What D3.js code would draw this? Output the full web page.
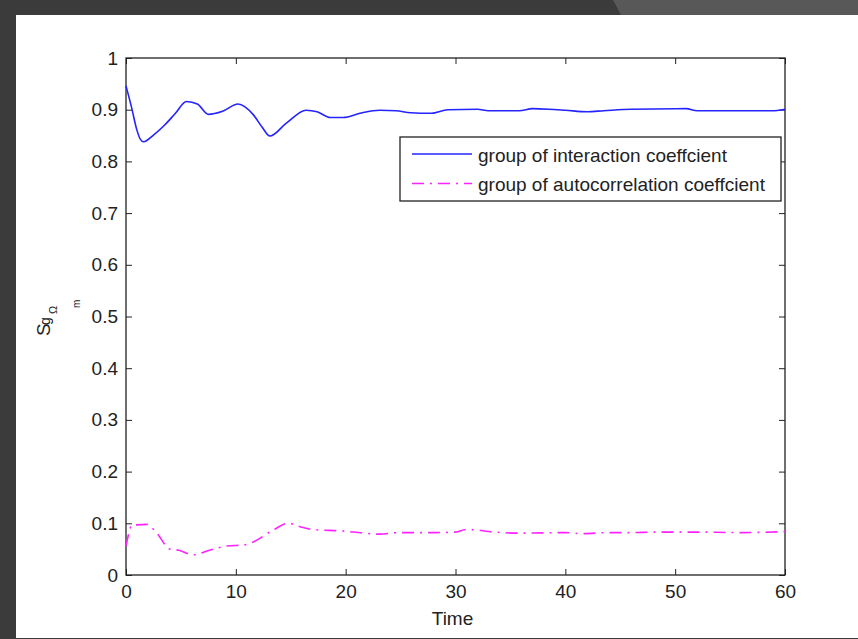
<!DOCTYPE html>
<html>
<head>
<meta charset="utf-8">
<script src="https://cdn.jsdelivr.net/npm/d3@7/dist/d3.min.js"></script>
<style>
  html, body { margin: 0; padding: 0; background: #3b3b3b; }
  svg { display: block; }
  text { font-family: "Liberation Sans", Arial, sans-serif; fill: #222; }
</style>
</head>
<body>
<svg id="chart" width="858" height="639"></svg>
<script>
// ---- Data ----
const interactionTime = [0, 0.5, 1.0, 1.3, 1.6, 2.5, 3.5, 4.5, 5.5, 6.5, 7.5, 8.8, 10.2, 11.6, 12.4, 13.1, 14.6, 16.4, 17.4, 18.6, 19.8, 21.3, 23.1, 24.6, 25.9, 27.8, 29.3, 32, 33, 35.8, 37, 38.5, 40, 42, 43.5, 46, 51, 52, 58.8, 60];
const interactionValues = [0.946, 0.905, 0.860, 0.843, 0.838, 0.851, 0.870, 0.893, 0.916, 0.911, 0.891, 0.897, 0.911, 0.890, 0.866, 0.849, 0.874, 0.899, 0.896, 0.885, 0.885, 0.893, 0.899, 0.898, 0.894, 0.893, 0.900, 0.901, 0.898, 0.898, 0.902, 0.901, 0.899, 0.896, 0.898, 0.901, 0.902, 0.898, 0.898, 0.901];

const autoTime = [0, 0.25, 0.5, 1.0, 1.9, 2.8, 4.0, 4.8, 6.1, 7.6, 9.2, 10.7, 11.6, 13.4, 14.8, 15.9, 17.0, 19.8, 21.6, 23.1, 24.9, 28, 30, 31, 32, 33, 36, 40, 41.5, 44, 46, 48, 52, 56, 60];
const autoValues = [0.056, 0.080, 0.096, 0.097, 0.098, 0.081, 0.050, 0.048, 0.039, 0.048, 0.056, 0.058, 0.064, 0.087, 0.100, 0.093, 0.088, 0.085, 0.081, 0.079, 0.082, 0.082, 0.083, 0.088, 0.087, 0.084, 0.081, 0.082, 0.080, 0.082, 0.082, 0.083, 0.083, 0.082, 0.084];

const xTicks = [0, 10, 20, 30, 40, 50, 60];
const yTicks = [0, 0.1, 0.2, 0.3, 0.4, 0.5, 0.6, 0.7, 0.8, 0.9, 1];
const seriesNames = ["group of interaction coeffcient", "group of autocorrelation coeffcient"];
const seriesColors = ["#2424ff", "#ff22ff"];

// ---- Drawing ----
const svg = d3.select("#chart");

// window frame
svg.append("rect").attr("x", 0).attr("y", 0).attr("width", 858).attr("height", 639).attr("fill", "#3b3b3b");
svg.append("path").attr("d", "M613,0 L858,0 L858,15 L621,15 Z").attr("fill", "#585858");
svg.append("rect").attr("x", 16).attr("y", 15).attr("width", 842).attr("height", 623).attr("fill", "#ffffff");

const plot = { left: 126, right: 785, top: 58, bottom: 575 };
const x = d3.scaleLinear().domain([0, 60]).range([plot.left, plot.right]);
const y = d3.scaleLinear().domain([0, 1]).range([plot.bottom, plot.top]);

const fmt = d => (d === 0 || d === 1) ? String(d) : d3.format(".1f")(d);

// axes with inward ticks
const axisStyle = g => {
  g.select(".domain").remove();
  g.selectAll(".tick line").attr("stroke", "#222").attr("stroke-width", 1);
  g.selectAll(".tick text").attr("font-size", 19).attr("font-family", "Liberation Sans, Arial, sans-serif").attr("fill", "#222");
};

svg.append("g").attr("transform", `translate(0,${plot.bottom})`)
  .call(d3.axisBottom(x).tickValues(xTicks).tickSize(-6).tickPadding(10).tickFormat(d3.format("d")))
  .call(axisStyle)
  .call(g => g.selectAll(".tick text").attr("dy", "0.71em"));

svg.append("g").attr("transform", `translate(0,${plot.top})`)
  .call(d3.axisTop(x).tickValues(xTicks).tickSize(-6).tickFormat(""))
  .call(axisStyle);

svg.append("g").attr("transform", `translate(${plot.left},0)`)
  .call(d3.axisLeft(y).tickValues(yTicks).tickSize(-6).tickPadding(8).tickFormat(fmt))
  .call(axisStyle);

svg.append("g").attr("transform", `translate(${plot.right},0)`)
  .call(d3.axisRight(y).tickValues(yTicks).tickSize(-6).tickFormat(""))
  .call(axisStyle);

// plot box
svg.append("rect")
  .attr("x", plot.left).attr("y", plot.top)
  .attr("width", plot.right - plot.left).attr("height", plot.bottom - plot.top)
  .attr("fill", "none").attr("stroke", "#222").attr("stroke-width", 1.3);

// lines
const line = d3.line().x(d => x(d[0])).y(d => y(d[1])).curve(d3.curveMonotoneX);

svg.append("path")
  .datum(d3.zip(interactionTime, interactionValues))
  .attr("d", line)
  .attr("fill", "none").attr("stroke", seriesColors[0]).attr("stroke-width", 1.6);

svg.append("path")
  .datum(d3.zip(autoTime, autoValues))
  .attr("d", line)
  .attr("fill", "none").attr("stroke", seriesColors[1]).attr("stroke-width", 1.6)
  .attr("stroke-dasharray", "12,6,2,6");

// axis label x
svg.append("text").attr("x", (plot.left + plot.right) / 2 - 3).attr("y", 625)
  .attr("text-anchor", "middle").attr("font-size", 19).text("Time");

// axis label y: S^g_{Ω_m}  (rotated group; local x = -screenY, local y = screenX)
const yl = svg.append("g").attr("transform", "rotate(-90)");
yl.append("text").attr("x", -336).attr("y", 50).attr("font-size", 19).text("S");
yl.append("text").attr("x", -325).attr("y", 50).attr("font-size", 14).text("g");
yl.append("text").attr("x", -314).attr("y", 57).attr("font-size", 11).text("Ω");
yl.append("text").attr("x", -308).attr("y", 80).attr("font-size", 10).text("m");

// legend
const leg = svg.append("g");
leg.append("rect").attr("x", 400).attr("y", 137).attr("width", 381).attr("height", 64)
  .attr("fill", "#fff").attr("stroke", "#222").attr("stroke-width", 1.3);
const legRows = [154, 183.5];
seriesNames.forEach((name, i) => {
  leg.append("line").attr("x1", 412).attr("x2", 472).attr("y1", legRows[i]).attr("y2", legRows[i])
    .attr("stroke", seriesColors[i]).attr("stroke-width", 1.6)
    .attr("stroke-dasharray", i === 1 ? "12,6,2,6" : null);
  leg.append("text").attr("x", 478).attr("y", legRows[i] + 7.5).attr("font-size", 19).text(name);
});
</script>
</body>
</html>
